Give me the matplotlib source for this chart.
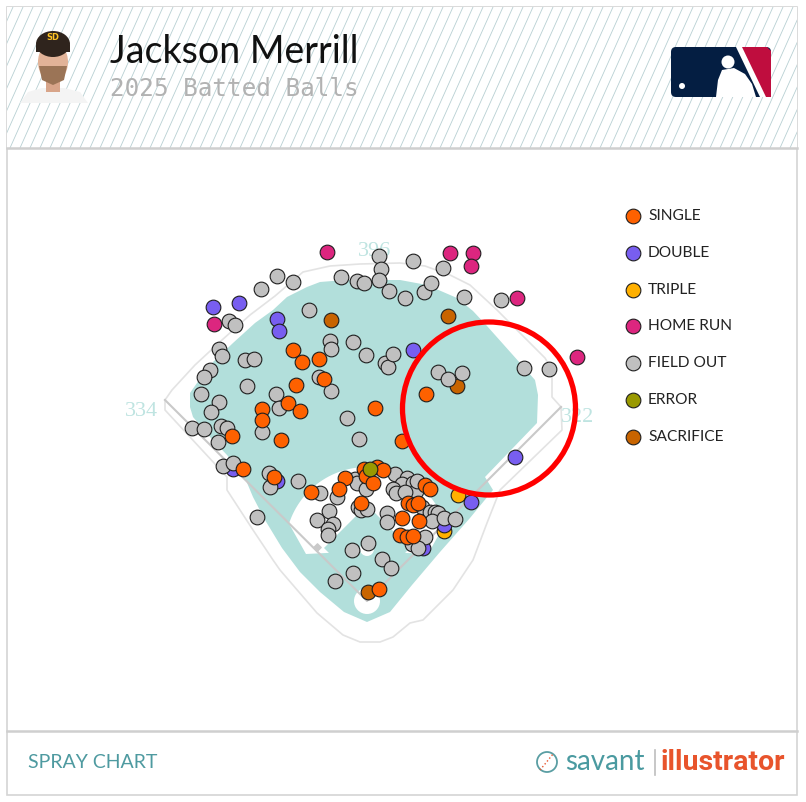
import matplotlib.pyplot as plt
from matplotlib.patches import Polygon, Circle, Rectangle, FancyBboxPatch, Ellipse
import numpy as np

# ---- batted balls (image pixel coordinates) ----
single_x = [293.3, 302.3, 319, 296, 324.3, 287.7, 300, 262.3, 262.3, 280.7, 232.3, 243, 274,
            374.7, 426, 402.3, 310.7, 345, 339.3, 364, 377.3, 382.7, 366, 373.3, 425, 430,
            361.3, 402.3, 419.3, 408.3, 413.3, 418.3, 400, 407.3, 413.3, 379.3]
single_y = [350, 362, 359.3, 384.7, 379.3, 402.7, 411, 409.3, 419.7, 440, 435.7, 469.3, 476.7,
            408.3, 393.7, 440.7, 492, 478.3, 489, 469, 466.7, 470, 476, 482.7, 485, 489.3,
            503.3, 518.3, 520.7, 503.3, 505, 503.3, 535, 537.3, 536, 589]

double_x = [213.3, 239.3, 276.7, 279, 413.3, 232.7, 277.3, 515.3, 470.7, 444, 423.3]
double_y = [307.3, 302.7, 319.3, 330.7, 350, 469.3, 480.7, 456.7, 502.3, 525, 548.3]

triple_x = [457.7, 443.5]
triple_y = [495, 530.7]

hr_x = [214.3, 326.7, 450.3, 473.3, 470.7, 517.3, 577.3]
hr_y = [324, 252.3, 252.7, 253.3, 266, 298.3, 356.7]

error_x = [370]
error_y = [469.3]

sac_x = [330.5, 448, 457.3, 368.3]
sac_y = [320.3, 315.7, 386, 592.3]

out_x = [276.7, 292.7, 260.7, 229.3, 234.7, 309.3, 341, 356.5, 364, 378.7, 380.7, 378.7, 389.3,
         405.3, 413.3, 424.3, 431, 442.7, 464.3, 501,
         219.3, 222.3, 245.3, 254, 330.3, 331, 353, 366, 384.7, 388.3, 392.7, 438, 448, 462.3,
         523.7, 549,
         210, 203.7, 200.7, 247, 318.7, 330.7, 276, 279.3, 262, 218.7, 211, 191.7, 204.3, 221.3,
         226.7, 218.3, 347, 359.3,
         223.3, 233, 269, 270.3, 298.3, 257.3,
         320, 336.7, 355, 356.7, 366, 395, 406.7, 402.3, 393.3, 396, 413.3, 416, 405, 416.7,
         358.3, 361, 366.7, 329, 317.3, 333.3, 327.7, 327.7, 387.3, 387.3, 421.7, 430, 435,
         438.3, 432.3, 444, 455, 425, 411.7, 418.3, 367.5, 352.3, 381.7, 391, 353.3, 335]
out_y = [275.7, 281.7, 289.3, 321, 325.3, 310, 277.3, 280.5, 282.7, 255.7, 269, 280, 290.7,
         298.3, 260.7, 292.3, 282.7, 268.3, 297, 300,
         349.3, 355.7, 360, 358.7, 341, 349.3, 342, 355, 363.3, 367.3, 354.3, 371.7, 379, 372.7,
         367.7, 368.7,
         370, 376.7, 393.7, 385.7, 376.7, 391.3, 394.3, 407.7, 432.3, 402.3, 412, 428, 428.7, 425.7,
         427.7, 441.7, 418, 439,
         466, 463, 473.3, 486.7, 480.5, 517.3,
         492.7, 497.3, 479.3, 483.3, 488.7, 474, 478.3, 484.3, 489, 493.3, 483.3, 490.7, 491.7, 480.7,
         506.7, 510, 509.3, 510.7, 520, 524, 529.3, 535, 513.3, 521.7, 507.3, 511.7, 511.7,
         513.3, 521, 518.3, 519.3, 537.3, 544, 548.3, 542.7, 550.3, 558.5, 568.3, 572.7, 581]

legend_labels = ["SINGLE", "DOUBLE", "TRIPLE", "HOME RUN", "FIELD OUT", "ERROR", "SACRIFICE"]
legend_colors = ["#fe6100", "#785ef0", "#ffb000", "#dc267f", "#c0c0c0", "#999900", "#c86400"]

distance_labels = ["334", "396", "322"]

# ---- figure ----
fig = plt.figure(figsize=(8.06, 8.02), dpi=100)
ax = fig.add_axes([0, 0, 1, 1])
ax.set_xlim(0, 806)
ax.set_ylim(802, 0)
ax.axis("off")

# frame, header and footer
ax.add_patch(Rectangle((7, 7), 790, 788, fc="white", ec="#d4d4d4", lw=1.2, zorder=0))
hdr = Rectangle((7, 7), 790, 141, fc="white", ec="none", zorder=0.5)
ax.add_patch(hdr)
for x0 in np.arange(-80, 820, 10):
    ln, = ax.plot([x0, x0 + 63], [148, 7], color="#b8d0d3", lw=0.6, zorder=0.6)
    ln.set_clip_path(hdr)
ax.plot([7, 797], [148, 148], color="#cfcfcf", lw=1.8, zorder=1)
ax.plot([7, 797], [731, 731], color="#cfcfcf", lw=1.8, zorder=1)

# headshot placeholder
ax.add_patch(Polygon([(20, 103), (28, 92), (42, 88), (64, 88), (80, 92), (88, 103)],
                     fc="#f4f4f4", ec="none", zorder=2))
ax.add_patch(Rectangle((46, 80), 14, 12, fc="#d8a58a", zorder=2))
ax.add_patch(Ellipse((53, 62), 30, 40, fc="#e2b398", zorder=2.1))
ax.add_patch(Polygon([(39, 66), (67, 66), (64, 80), (53, 85), (42, 80)], fc="#9b7456",
                     ec="none", zorder=2.2))
ax.add_patch(Ellipse((53, 44), 34, 26, fc="#2f241d", zorder=2.3))
ax.add_patch(Rectangle((36, 45), 34, 7, fc="#2f241d", zorder=2.3))
ax.text(53, 38, "SD", fontsize=6, color="#ffc425", ha="center", va="center",
        fontweight="bold", zorder=2.4)

ax.text(110, 52, "Jackson Merrill", fontsize=27, family="Lato", color="#111111",
        va="center", ha="left", zorder=3)
ax.text(110, 89, "2025 Batted Balls", fontsize=17.5, family="DejaVu Sans Mono",
        color="#b2b2b2", va="center", ha="left", zorder=3)

# MLB logo
ax.add_patch(FancyBboxPatch((671, 47), 100, 50, boxstyle="round,pad=0,rounding_size=5",
                            fc="#041e42", ec="none", zorder=3))
ax.add_patch(Polygon([(740, 47), (767, 47), (771, 51), (771, 97), (762, 97)],
                     fc="#bf0d3e", ec="none", zorder=3.1))
ax.add_patch(Polygon([(736, 47), (742, 47), (766, 97), (760, 97)], fc="white", ec="none",
                     zorder=3.2))
ax.add_patch(Circle((728, 62), 6.5, fc="white", ec="none", zorder=3.2))
ax.add_patch(Polygon([(716, 97), (718, 80), (722, 70), (734, 68), (745, 74), (752, 84),
                      (756, 97)], fc="white", ec="none", zorder=3.2))
ax.add_patch(Circle((682, 86), 3, fc="white", ec="none", zorder=3.2))

# ---- field ----
grass = [(190, 393), (197, 383), (213, 362), (233, 343), (255, 323), (273, 310), (287, 297),
         (307, 287), (320, 282), (345, 280), (400, 280), (427, 285), (457, 298), (473, 311),
         (487, 326), (520, 363), (535, 380), (538, 395), (537, 423), (485, 477), (493, 490),
         (470, 518), (440, 552), (412, 585), (390, 612), (367, 622), (344, 612), (320, 592),
         (300, 572), (282, 548), (265, 520), (253, 497), (245, 478), (227, 455), (210, 437),
         (193, 417), (190, 407)]
ax.add_patch(Polygon(grass, fc="#b2dfdb", ec="none", zorder=1))

mound = (367, 549)
ang = np.radians(np.linspace(18, 162, 60))
arc = [(mound[0] + 82 * np.cos(a), mound[1] - 82 * np.sin(a)) for a in ang]
dirt = arc + [(306, 554), (367, 551), (428, 554)]
ax.add_patch(Polygon(dirt, fc="white", ec="none", zorder=1.1))
ax.add_patch(Polygon([(324, 548), (367, 505), (410, 548), (367, 591)], fc="#b2dfdb",
                     ec="none", zorder=1.2))
ax.add_patch(Circle(mound, 7, fc="white", ec="none", zorder=1.3))
ax.add_patch(Circle((367, 601), 13, fc="white", ec="none", zorder=1.3))

wall = [(165, 400), (172, 390), (195, 365), (222, 340), (250, 315), (275, 296), (303, 272),
        (330, 266), (360, 264), (400, 263), (425, 266), (450, 275), (470, 285), (497, 310),
        (520, 333), (545, 358), (552, 370), (552, 397), (561, 407)]
ax.plot(*zip(*wall), color="#e3e3e3", lw=1.2, zorder=1.4)
foul_area = [(165, 400), (165, 410), (227, 477), (227, 490), (253, 530), (273, 560),
             (280, 570), (317, 613), (343, 635), (360, 642), (380, 642), (393, 637),
             (410, 623), (423, 620), (453, 590), (473, 560), (487, 523), (500, 490),
             (562, 430), (561, 407)]
ax.plot(*zip(*foul_area), color="#e3e3e3", lw=1.2, zorder=1.4)
ax.plot([165, 367, 561], [400, 601, 407], color="#c9c9c9", lw=1.5, zorder=1.5)
ax.scatter([317, 417], [547, 547], marker="D", s=14, color="#c9c9c9", zorder=1.5)

for lbl, (tx, ty) in zip(distance_labels, [(142, 412), (375, 252), (578, 418)]):
    ax.text(tx, ty, lbl, fontsize=16, family="Liberation Serif", color="#bfe4e1",
            ha="center", va="center", zorder=1.6)

# ---- batted balls ----
kw = dict(s=112, edgecolors="#1e1e1e", linewidths=0.8)
ax.scatter(triple_x, triple_y, c=legend_colors[2], zorder=4, **kw)
ax.scatter(double_x, double_y, c=legend_colors[1], zorder=4.1, **kw)
ax.scatter(sac_x, sac_y, c=legend_colors[6], zorder=4.2, **kw)
ax.scatter(out_x, out_y, c=legend_colors[4], zorder=4.3, **kw)
ax.scatter(single_x, single_y, c=legend_colors[0], zorder=4.4, **kw)
ax.scatter(error_x, error_y, c=legend_colors[5], zorder=4.5, **kw)
ax.scatter(hr_x, hr_y, c=legend_colors[3], zorder=4.6, **kw)

# legend
for i, (lbl, col) in enumerate(zip(legend_labels, legend_colors)):
    ly = 216 + i * 36.8
    ax.scatter([633], [ly], c=col, zorder=5, **kw)
    ax.text(648, ly, lbl, fontsize=11.2, family="Lato", color="#222222",
            va="center", ha="left", zorder=5)

# highlight circle
ax.add_patch(Circle((489, 408.5), 86.5, fill=False, ec="#ff0000", lw=3.8, zorder=6))

# footer
ax.text(28, 763, "SPRAY CHART", fontsize=14, family="Lato", color="#4e9aa0",
        va="center", ha="left")
ax.add_patch(Circle((547, 762), 10, fc="white", ec="#5a9ea3", lw=1.3, zorder=3))
ax.plot([540, 545, 549, 553], [770, 764, 759, 754], color="#e8542c", lw=1, ls=":", zorder=3.1)
ax.text(565, 762, "savant", fontsize=20, family="Lato", color="#4a9aa0",
        va="center", ha="left")
ax.plot([655, 655], [750, 775], color="#bdbdbd", lw=1.2)
ax.text(661, 762, "illustrator", fontsize=20.5, family="Roboto", fontweight="bold",
        color="#e8542c", va="center", ha="left")

fig.savefig("out.png", dpi=100)
